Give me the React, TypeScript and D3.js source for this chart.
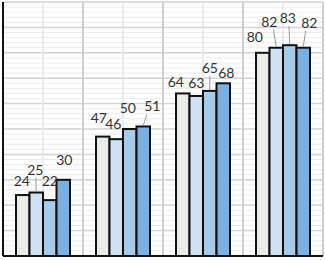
import React from 'react';
import * as d3 from 'd3';

// four groups, four series each
const groups = ['G1', 'G2', 'G3', 'G4'];
const series = ['S1', 'S2', 'S3', 'S4'];
const values = [
  [24, 25, 22, 30],
  [47, 46, 50, 51],
  [64, 63, 65, 68],
  [80, 82, 83, 82],
];
const seriesColors = ['#e9ede9', '#cfe1f2', '#a9cbea', '#7db0e0'];

// label nudges relative to bar top centre [dx, dy, leader]
const labelNudge = [
  [[-1, -9, 0], [-1, -18, 1], [0, -14, 0], [1, -15, 0]],
  [[-4, -14, 0], [-3, -10, 0], [-2, -16, 0], [9, -15, 1]],
  [[-7, -6, 0], [0, -8, 0], [0, -18, 1], [3, -5, 0]],
  [[-8, -11, 0], [-7, -21, 1], [-2, -22, 1], [6, -20, 1]],
];

const W = 325;
const H = 260;
const left = 3;
const right = 323;
const top = 2;
const bottom = 256;

export default function App() {
  const x0 = d3.scaleBand().domain(groups).range([left, right]);
  const x1 = d3.scaleBand().domain(series).range([13, 67]);
  const y = d3.scaleLinear().domain([0, 100]).range([bottom, top]);

  const minorTicks = d3.range(0, 101, 2);
  const majorTicks = d3.range(0, 101, 10);

  return (
    <svg width={W} height={H} style={{ position: 'absolute', left: 0, top: 0 }}>
      <rect x={0} y={0} width={W} height={H} fill="#fff" />
      {minorTicks.map((t) => (
        <line key={'m' + t} x1={left} x2={right} y1={y(t)} y2={y(t)} stroke="#ececec" strokeWidth={1} />
      ))}
      {majorTicks.map((t) => (
        <line key={'M' + t} x1={left} x2={right} y1={y(t)} y2={y(t)} stroke="#d4d4d4" strokeWidth={1.5} />
      ))}
      {groups.map((g) => (
        <g key={'v' + g}>
          <line x1={x0(g)! + x0.bandwidth() / 2} x2={x0(g)! + x0.bandwidth() / 2} y1={top} y2={bottom} stroke="#e6e6e6" strokeWidth={1.5} />
          <line x1={x0(g)! + x0.bandwidth()} x2={x0(g)! + x0.bandwidth()} y1={top} y2={bottom} stroke="#cfcfcf" strokeWidth={2} />
        </g>
      ))}
      {groups.map((g, gi) => (
        <g key={g} transform={`translate(${x0(g)},0)`}>
          {series.map((s, si) => {
            const v = values[gi][si];
            return (
              <rect
                key={s}
                x={x1(s)}
                y={y(v)}
                width={x1.bandwidth()}
                height={y(0) - y(v)}
                fill={seriesColors[si]}
                stroke="#111"
                strokeWidth={2}
              />
            );
          })}
          {series.map((s, si) => {
            const v = values[gi][si];
            const [dx, dy, leader] = labelNudge[gi][si];
            const cx = x1(s)! + x1.bandwidth() / 2;
            const lx = cx + dx;
            const ly = y(v) + dy;
            return (
              <g key={'l' + s}>
                {leader ? (
                  <line x1={cx + dx * 0.4} y1={ly + 3} x2={cx} y2={y(v) - 1} stroke="#9a9a9a" strokeWidth={1} />
                ) : null}
                <text
                  x={lx}
                  y={ly}
                  textAnchor="middle"
                  fontFamily="Lato, 'Open Sans', sans-serif"
                  fontSize={14}
                  fill="#333"
                >
                  {v}
                </text>
              </g>
            );
          })}
        </g>
      ))}
      <line x1={left} x2={left} y1={top} y2={bottom} stroke="#111" strokeWidth={2} />
      <line x1={left} x2={right} y1={bottom} y2={bottom} stroke="#111" strokeWidth={2} />
    </svg>
  );
}
